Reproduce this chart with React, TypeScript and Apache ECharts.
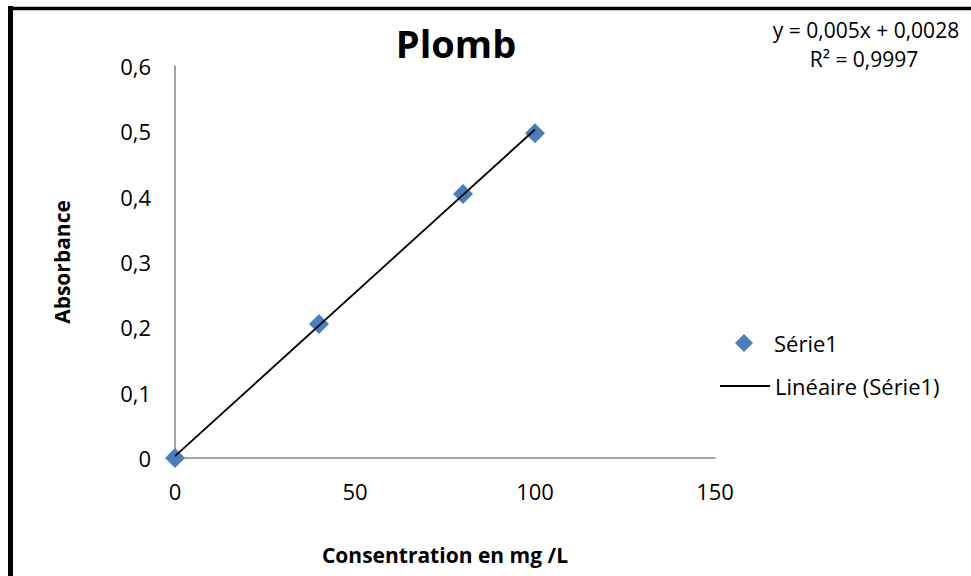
import React, { useEffect, useRef } from "react";
import * as echarts from "echarts";

const concentrations = [0, 40, 80, 100];
const absorbances = [0, 0.205, 0.404, 0.497];
const trendX = [0, 100];
const trendY = [0.0028, 0.5028];
const equationLines = ["y = 0,005x + 0,0028", "R² = 0,9997"];
const chartTitle = "Plomb";
const xTitle = "Consentration en mg /L";
const yTitle = "Absorbance";
const seriesName = "Série1";
const trendName = "Linéaire (Série1)";

const FONT = "'Open Sans', Lato, sans-serif";

export default function App() {
  const ref = useRef<HTMLDivElement>(null);
  useEffect(() => {
    if (!ref.current) return;
    const chart = echarts.init(ref.current, undefined, { renderer: "svg" });
    const fmt = (v: number) => String(Math.round(v * 1000) / 1000).replace(".", ",");
    chart.setOption({
      animation: false,
      backgroundColor: "#fff",
      textStyle: { fontFamily: FONT },
      title: {
        text: chartTitle,
        left: 451,
        top: 19,
        textAlign: "center",
        textStyle: { fontFamily: FONT, fontSize: 38, fontWeight: "bold", color: "#000" },
      },
      grid: { left: 175, right: 256, top: 66, bottom: 118, containLabel: false },
      xAxis: {
        type: "value",
        min: 0,
        max: 150,
        interval: 50,
        name: xTitle,
        nameLocation: "middle",
        nameGap: 86,
        nameTextStyle: { fontFamily: FONT, fontSize: 21, fontWeight: "bold", color: "#000" },
        axisLine: { show: true, onZero: false, lineStyle: { color: "#868686", width: 1.5 } },
        axisTick: { show: false },
        splitLine: { show: false },
        axisLabel: { margin: 22, fontSize: 22, color: "#000", fontFamily: FONT, formatter: fmt },
      },
      yAxis: {
        type: "value",
        min: 0,
        max: 0.6,
        interval: 0.1,
        name: yTitle,
        nameLocation: "middle",
        nameGap: 103,
        nameRotate: 90,
        nameTextStyle: { fontFamily: FONT, fontSize: 21, fontWeight: "bold", color: "#000" },
        axisLine: { show: true, onZero: false, lineStyle: { color: "#868686", width: 1.5 } },
        axisTick: { show: false },
        splitLine: { show: false },
        axisLabel: { margin: 24, fontSize: 22, color: "#000", fontFamily: FONT, formatter: fmt },
      },
      legend: [
        {
          orient: "vertical",
          left: 735,
          top: 332,
          padding: 0,
          itemWidth: 18,
          itemHeight: 18,
          data: [{ name: seriesName, icon: "diamond" }],
          textStyle: { fontSize: 22, color: "#000", fontFamily: FONT, padding: [0, 0, 0, 16] },
          selectedMode: false,
        },
        {
          orient: "vertical",
          left: 720,
          top: 375,
          padding: 0,
          itemWidth: 50,
          itemHeight: 2,
          data: [{ name: trendName, icon: "rect" }],
          textStyle: { fontSize: 22, color: "#000", fontFamily: FONT, padding: [0, 0, 0, 0] },
          selectedMode: false,
        },
      ],
      graphic: [
        {
          type: "line",
          shape: { x1: 10.5, y1: 6, x2: 10.5, y2: 600 },
          style: { stroke: "#000", lineWidth: 5 },
          silent: true,
        },
        {
          type: "line",
          shape: { x1: 8, y1: 8.5, x2: 1000, y2: 8.5 },
          style: { stroke: "#000", lineWidth: 3.5 },
          silent: true,
        },
        {
          type: "text",
          x: 866,
          y: 30,
          style: { text: equationLines[0], fill: "#000", fontSize: 21, fontFamily: FONT, align: "center", verticalAlign: "middle" },
        },
        {
          type: "text",
          x: 864,
          y: 59,
          style: { text: equationLines[1], fill: "#000", fontSize: 21, fontFamily: FONT, align: "center", verticalAlign: "middle" },
        },
      ],
      series: [
        {
          name: trendName,
          type: "line",
          data: trendX.map((x, i) => [x, trendY[i]]),
          symbol: "none",
          lineStyle: { color: "#000", width: 1.8 },
          itemStyle: { color: "#000" },
          z: 3,
        },
        {
          name: seriesName,
          type: "scatter",
          data: concentrations.map((x, i) => [x, absorbances[i]]),
          symbol: "diamond",
          symbolSize: 20,
          itemStyle: { color: "#4A7EBB", opacity: 1 },
          z: 2,
        },
      ],
    });
    return () => chart.dispose();
  }, []);
  return <div ref={ref} style={{ position: "fixed", left: 0, top: 0, width: 971, height: 576 }} />;
}
